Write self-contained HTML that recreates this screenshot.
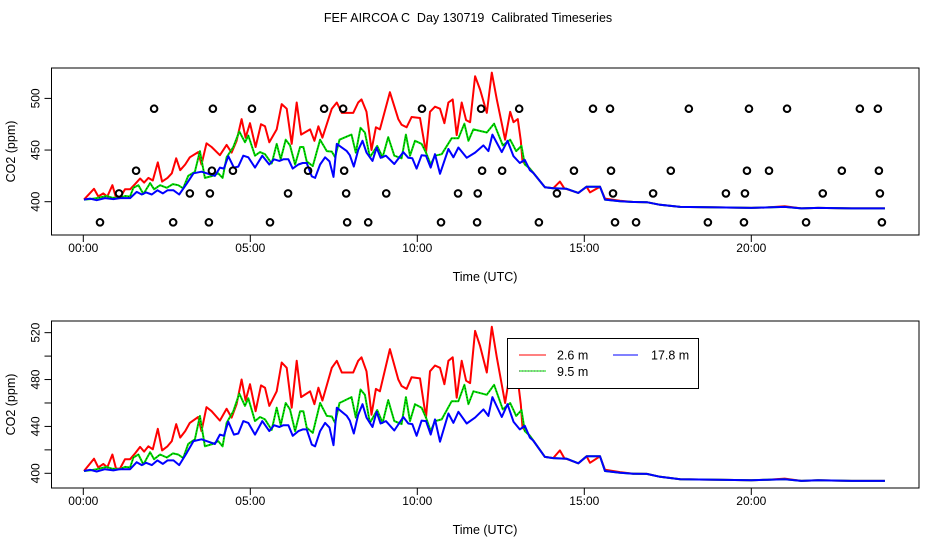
<!DOCTYPE html>
<html><head><meta charset="utf-8"><style>
body{margin:0;background:#fff;}
svg{display:block;font-family:"Liberation Sans",sans-serif;}
</style></head><body>
<svg id="chart" width="936" height="540" viewBox="0 0 936 540" xmlns="http://www.w3.org/2000/svg">
<rect width="936" height="540" fill="#fff"/>
<text x="468" y="22" text-anchor="middle" font-size="12.5" style="white-space:pre">FEF AIRCOA C  Day 130719  Calibrated Timeseries</text>
<g id="top"></g>
<g id="bot"></g>
</svg>
<script>
const xTickHours=[0,5,10,15,20];
const xTickLabels=["00:00","05:00","10:00","15:00","20:00"];
const topYTicks=[400,450,500];
const botYTicks=[400,420,440,460,480,500,520];
const botYLabels=["400","","440","","480","","520"];
const tail=[[13.47,428],[13.82,414],[14.07,413],[14.47,412.5],[14.82,408.5],[15.07,414.5],[15.47,414.5],[15.62,402],[16.07,400.5],[16.47,399.7],[16.87,399.5],[17.27,397],[17.87,395],[19,394.5],[20,394],[20.5,394.5],[21,395],[21.5,393.5],[22,394],[23,393.5],[24,393.5]];
const red26=[[0.02,402],[0.32,412.5],[0.45,405],[0.6,408],[0.72,405],[0.87,416],[0.98,404],[1.1,404],[1.25,412],[1.4,412],[1.55,417],[1.7,422.5],[1.82,418.5],[1.95,423],[2.08,420.5],[2.23,438],[2.36,419.5],[2.52,423],[2.65,427.5],[2.78,442],[2.9,430.5],[3.05,436],[3.19,443],[3.44,448],[3.54,436],[3.69,456.5],[3.84,453],[4.09,445],[4.29,455],[4.44,447.5],[4.59,459],[4.74,480],[4.86,462],[4.99,476],[5.16,453],[5.32,475],[5.44,473],[5.57,457.5],[5.79,470],[5.94,494.5],[6.09,490],[6.24,456],[6.39,496],[6.52,465],[6.79,470],[6.92,459],[7.04,473],[7.16,462],[7.44,490],[7.59,496],[7.74,486],[8.08,486],[8.23,496],[8.33,499],[8.48,487],[8.63,450],[8.76,472],[8.88,470],[9.18,506],[9.43,480],[9.53,474.5],[9.68,472],[9.83,482],[10.08,481],[10.26,447.5],[10.38,487],[10.53,492],[10.68,490],[10.81,476],[10.93,496],[11.06,499],[11.18,464.5],[11.33,496],[11.46,479],[11.58,477],[11.73,521.5],[11.88,508.5],[12.08,486],[12.23,525],[12.38,499],[12.63,460],[12.78,487],[12.88,477],[13.01,480],[13.1,459],[13.15,439],[13.37,432],[13.82,414],[14.07,413],[14.27,419.5],[14.4,413],[14.82,408.5],[15.07,414.5],[15.17,409],[15.47,414.5],[15.62,403],[16.07,401],[16.47,399.7],[16.87,399.5],[17.27,397],[17.87,395],[19,394.5],[20,394],[20.5,394.5],[21,395.5],[21.5,393.5],[22,394],[23,393.5],[24,393.5]];
const green95=[[0.02,402],[0.2,402.5],[0.4,403.5],[0.7,405.5],[0.85,404],[1.1,403.5],[1.25,405.5],[1.4,405],[1.5,413.5],[1.65,416],[1.8,407.5],[2,418],[2.12,412],[2.3,416],[2.5,413.5],[2.68,417],[2.84,416],[2.99,413],[3.14,425],[3.34,429],[3.49,449],[3.64,423],[3.87,425],[4.04,427.5],[4.17,423],[4.29,443],[4.49,453],[4.67,468],[4.84,457.5],[4.94,464],[5.14,444.5],[5.29,448],[5.44,446],[5.64,437],[5.79,456],[5.91,441],[6.06,460],[6.19,454.5],[6.34,436],[6.49,453],[6.59,453],[6.69,439],[6.87,434.5],[7.09,460],[7.29,449],[7.44,448.5],[7.54,443],[7.67,460],[8.03,465],[8.16,447.5],[8.3,471.5],[8.43,467],[8.58,443],[8.8,454],[8.96,443],[9.13,462.5],[9.31,444.5],[9.53,442],[9.66,465],[9.78,444.5],[9.93,459],[10.13,456],[10.26,447.5],[10.4,436],[10.53,444.5],[10.73,446],[11.03,461.5],[11.23,461.5],[11.41,475.5],[11.53,459],[11.68,470],[12.08,467],[12.3,475.5],[12.56,454.5],[12.78,460],[12.96,449],[13.12,454],[13.22,436],[13.37,432]].concat(tail);
const blue178=[[0.02,402],[0.2,403],[0.4,401.5],[0.65,403.5],[0.9,402.5],[1.1,403.5],[1.4,403.5],[1.6,409.5],[1.75,407],[1.88,409],[2.05,407],[2.22,411],[2.38,408],[2.52,411],[2.7,411],[2.87,407],[3.1,417.5],[3.3,427.5],[3.54,429],[3.84,426],[3.94,425],[4.09,433],[4.21,432],[4.34,444],[4.51,433],[4.64,434],[4.79,444.5],[4.94,443],[5.14,433],[5.36,444.5],[5.57,436],[5.71,441],[5.87,439.5],[5.99,441],[6.14,441],[6.27,432],[6.44,436],[6.57,437.5],[6.69,437.5],[6.84,424.5],[6.94,423],[7.09,436],[7.24,443],[7.37,439],[7.49,424],[7.59,456],[7.89,449],[7.98,445],[8.1,434],[8.23,450],[8.36,459],[8.48,447.5],[8.66,439.5],[8.78,452.5],[8.9,442.5],[9.06,444.5],[9.31,436.5],[9.58,448],[9.73,442.5],[9.85,442],[9.98,432],[10.13,445],[10.26,444.5],[10.4,433],[10.53,446],[10.68,427],[10.93,451],[11.08,443],[11.23,452.5],[11.48,442.5],[11.73,447.5],[11.98,454.5],[12.13,449],[12.25,465],[12.53,448],[12.7,459],[12.88,444],[13.07,437.5],[13.22,440.5],[13.37,430.5]].concat(tail);
const flagHours=[2.12,3.88,5.05,7.21,7.78,10.14,11.91,13.05,15.26,15.77,18.13,19.93,21.07,23.25,23.79,
1.58,3.85,4.48,6.73,7.81,11.94,12.54,14.69,15.8,17.59,19.87,20.53,22.71,23.82,
1.07,3.19,3.79,6.13,7.87,9.07,11.22,11.81,14.18,15.86,17.06,19.24,19.81,22.14,23.85,
0.5,2.69,3.76,5.59,7.9,8.53,10.71,11.79,13.64,15.92,16.55,18.7,19.78,21.64,23.91];
const flagValues=[490,490,490,490,490,490,490,490,490,490,490,490,490,490,490,
430,430,430,430,430,430,430,430,430,430,430,430,430,430,
408,408,408,408,408,408,408,408,408,408,408,408,408,408,408,
380,380,380,380,380,380,380,380,380,380,380,380,380,380,380];

const NS="http://www.w3.org/2000/svg";
const GREEN='#00e000';
function mk(parent,tag,attrs,text){const e=document.createElementNS(NS,tag);for(const k in attrs)e.setAttribute(k,attrs[k]);if(text!==undefined)e.textContent=text;parent.appendChild(e);return e;}
const xScale=h=>83.3+h*33.4;

function panel(g,top,bot,y0,yPx0,ppx,yTicks,yLabels,withFlags,withLegend,prefix){
  const ys=v=>yPx0-(v-y0)*ppx;
  const L=51.5,R=919;
  const box=mk(g,'rect',{x:L,y:top,width:R-L,height:bot-top,fill:'none',stroke:'#000','stroke-width':1});
  
  
  const ln=(arr,color,name)=>{
    const p=mk(g,'polyline',{points:arr.map(d=>xScale(d[0]).toFixed(1)+','+ys(d[1]).toFixed(1)).join(' '),fill:'none',stroke:color,'stroke-width':2,'stroke-linejoin':'round'});
    
    
    return p;
  };
  ln(red26,'#f00','series-2-6m');
  ln(green95,GREEN,'series-9-5m');
  const d=mk(g,'polyline',{points:green95.map(d=>xScale(d[0]).toFixed(1)+','+ys(d[1]).toFixed(1)).join(' '),fill:'none',stroke:'#000','stroke-width':0.6,'stroke-dasharray':'1,2'});
  
  
  ln(blue178,'#00f','series-17-8m');
  if(withFlags){
    for(let i=0;i<flagHours.length;i++){
      const c=mk(g,'circle',{cx:xScale(flagHours[i]),cy:ys(flagValues[i]),r:3.3,fill:'none',stroke:'#000','stroke-width':2});
      
      
    }
  }
  mk(g,'line',{x1:xScale(0),x2:xScale(20),y1:bot,y2:bot,stroke:'#000'});
  xTickHours.forEach((h,i)=>{
    mk(g,'line',{x1:xScale(h),x2:xScale(h),y1:bot,y2:bot+7,stroke:'#000'});
    const t=mk(g,'text',{x:xScale(h),y:bot+17,'text-anchor':'middle','font-size':12},xTickLabels[i]);
    
    
  });
  const xt=mk(g,'text',{x:485,y:bot+46,'text-anchor':'middle','font-size':12.5},'Time (UTC)');
  
  
  yTicks.forEach((v,i)=>{
    mk(g,'line',{x1:L,x2:L-7,y1:ys(v),y2:ys(v),stroke:'#000'});
    if(yLabels[i]){
      const t=mk(g,'text',{x:0,y:0,'text-anchor':'middle','font-size':12,transform:`translate(${L-12},${ys(v)}) rotate(-90)`},yLabels[i]);
      
      
    }
  });
  const yt=mk(g,'text',{x:0,y:0,'text-anchor':'middle','font-size':12.5,transform:`translate(15,${(top+bot)/2}) rotate(-90)`},'CO2 (ppm)');
  
  
  if(withLegend){
    const lg=mk(g,'g',{});
    
    
    mk(lg,'rect',{x:507.5,y:338.5,width:191,height:50,fill:'#fff',stroke:'#000'});
    mk(lg,'line',{x1:519,x2:546,y1:355,y2:355,stroke:'#f00'});
    const a=mk(lg,'text',{x:557,y:359.5,'font-size':12.5},'2.6 m');
    
    
    mk(lg,'line',{x1:613,x2:638,y1:355,y2:355,stroke:'#00f'});
    const b=mk(lg,'text',{x:651,y:359.5,'font-size':12.5},'17.8 m');
    
    
    mk(lg,'line',{x1:519,x2:546,y1:371,y2:371,stroke:GREEN});
    mk(lg,'line',{x1:519,x2:546,y1:371,y2:371,stroke:'#000','stroke-width':0.6,'stroke-dasharray':'1,2'});
    const c=mk(lg,'text',{x:557,y:376,'font-size':12.5},'9.5 m');
    
    
  }
}
const gt=document.getElementById('top');


const gb=document.getElementById('bot');


panel(gt,68,235,400,201.7,1.033,topYTicks,topYTicks.map(String),true,false,'top');
panel(gb,321,488,400,473.3,1.172,botYTicks,botYLabels,false,true,'bottom');
</script>
</body></html>
